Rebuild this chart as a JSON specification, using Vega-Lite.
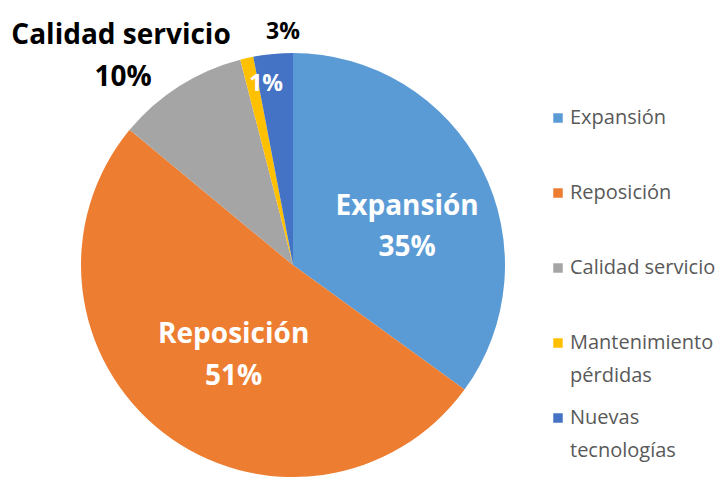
{
  "$schema": "https://vega.github.io/schema/vega-lite/v6.json",
  "width": 586,
  "height": 424,
  "autosize": "none",
  "padding": {"left": 0, "top": 53, "right": 138, "bottom": 8},
  "background": "white",
  "config": {"view": {"stroke": null}, "font": "Open Sans", "style": {"guide-label": {"lineHeight": 33}}},
  "data": {"values": [
    {"idx": 1, "cat": "Expansión", "value": 35, "pct": "35%"},
    {"idx": 2, "cat": "Reposición", "value": 51, "pct": "51%"},
    {"idx": 3, "cat": "Calidad servicio", "value": 10, "pct": "10%"},
    {"idx": 4, "cat": "Mantenimiento pérdidas", "value": 1, "pct": "1%"},
    {"idx": 5, "cat": "Nuevas tecnologías", "value": 3, "pct": "3%"}
  ]},
  "encoding": {
    "theta": {"field": "value", "type": "quantitative", "stack": true},
    "order": {"field": "idx", "type": "quantitative"}
  },
  "layer": [
    {
      "mark": {"type": "arc", "outerRadius": 212, "stroke": null},
      "encoding": {
        "color": {
          "field": "cat", "type": "nominal",
          "scale": {
            "domain": ["Expansión", "Reposición", "Calidad servicio", "Mantenimiento pérdidas", "Nuevas tecnologías"],
            "range": ["#5B9BD5", "#ED7D31", "#A5A5A5", "#FFC000", "#4472C4"]
          },
          "legend": {
            "title": null,
            "orient": "none",
            "legendX": 548,
            "legendY": 55,
            "symbolType": "square",
            "symbolSize": 90,
            "symbolStrokeWidth": 0,
            "labelFont": "Open Sans",
            "labelFontSize": 20,
            "labelColor": "#595959",
            "labelOffset": 2,
            "rowPadding": 22,
            "labelLimit": 400,
            "labelBaseline": "middle",
            "labelExpr": "datum.label == 'Mantenimiento pérdidas' ? ['Mantenimiento', 'pérdidas'] : datum.label == 'Nuevas tecnologías' ? ['Nuevas', 'tecnologías'] : [datum.label, ' ']"
          }
        }
      }
    },
    {
      "mark": {"type": "text", "radius": 118, "dx": 9, "dy": -4, "fontSize": 28, "fontWeight": "bold", "color": "white", "font": "Open Sans"},
      "encoding": {"text": {"condition": {"test": "datum.idx == 1", "field": "cat", "type": "nominal"}, "value": ""}}
    },
    {
      "mark": {"type": "text", "radius": 118, "dx": 9, "dy": 37, "fontSize": 28, "fontWeight": "bold", "color": "white", "font": "Open Sans"},
      "encoding": {"text": {"condition": {"test": "datum.idx == 1", "field": "pct", "type": "nominal"}, "value": ""}}
    },
    {
      "mark": {"type": "text", "radius": 118, "dx": 13, "dy": -23, "fontSize": 28, "fontWeight": "bold", "color": "white", "font": "Open Sans"},
      "encoding": {"text": {"condition": {"test": "datum.idx == 2", "field": "cat", "type": "nominal"}, "value": ""}}
    },
    {
      "mark": {"type": "text", "radius": 118, "dx": 13, "dy": 19, "fontSize": 28, "fontWeight": "bold", "color": "white", "font": "Open Sans"},
      "encoding": {"text": {"condition": {"test": "datum.idx == 2", "field": "pct", "type": "nominal"}, "value": ""}}
    },
    {
      "mark": {"type": "text", "radius": 250, "dx": -38, "dy": -18, "fontSize": 28, "fontWeight": "bold", "color": "black", "font": "Open Sans"},
      "encoding": {"text": {"condition": {"test": "datum.idx == 3", "field": "cat", "type": "nominal"}, "value": ""}}
    },
    {
      "mark": {"type": "text", "radius": 250, "dx": -36, "dy": 24, "fontSize": 28, "fontWeight": "bold", "color": "black", "font": "Open Sans"},
      "encoding": {"text": {"condition": {"test": "datum.idx == 3", "field": "pct", "type": "nominal"}, "value": ""}}
    },
    {
      "mark": {"type": "text", "radius": 183, "dx": 13, "dy": -2, "fontSize": 23, "fontWeight": "bold", "color": "white", "font": "Open Sans"},
      "encoding": {"text": {"condition": {"test": "datum.idx == 4", "field": "pct", "type": "nominal"}, "value": ""}}
    },
    {
      "mark": {"type": "text", "radius": 234, "dx": 12, "fontSize": 23, "fontWeight": "bold", "color": "black", "font": "Open Sans"},
      "encoding": {"text": {"condition": {"test": "datum.idx == 5", "field": "pct", "type": "nominal"}, "value": ""}}
    }
  ]
}
